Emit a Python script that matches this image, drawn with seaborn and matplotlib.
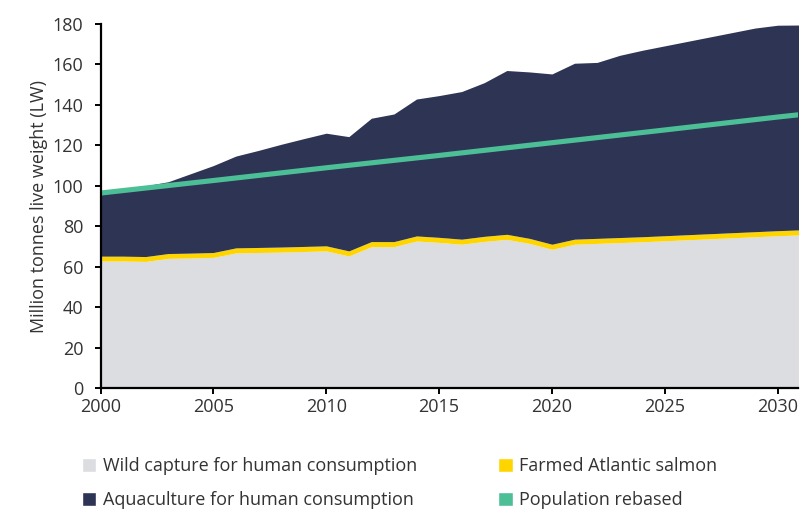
import matplotlib
matplotlib.use('Agg')
import matplotlib.pyplot as plt
from matplotlib.patches import Patch
import seaborn as sns
import pandas as pd

# data (million tonnes live weight)
years = list(range(2000, 2032))
wild_capture = [62.8, 62.8, 62.6, 64.1, 64.3, 64.6, 66.8, 67.0, 67.2, 67.5,
                67.8, 65.3, 69.9, 69.9, 72.7, 72.0, 71.1, 72.5, 73.5, 71.5,
                68.6, 71.1, 71.5, 71.9, 72.3, 72.8, 73.3, 73.8, 74.3, 74.8,
                75.3, 75.7]
farmed_salmon = [2.4, 2.4, 2.4, 2.4, 2.4, 2.4, 2.5, 2.5, 2.5, 2.5,
                 2.5, 2.5, 2.5, 2.5, 2.5, 2.5, 2.5, 2.5, 2.5, 2.5,
                 2.5, 2.5, 2.5, 2.5, 2.5, 2.5, 2.5, 2.5, 2.5, 2.5,
                 2.5, 2.5]
aquaculture = [30.3, 32.3, 35.0, 35.5, 39.3, 43.0, 45.4, 48.0, 50.8, 53.3,
               55.7, 56.5, 61.0, 63.1, 67.7, 70.1, 73.0, 76.0, 81.0, 82.3,
               84.2, 87.0, 87.0, 90.1, 92.2, 93.9, 95.6, 97.3, 99.0, 100.7,
               101.6, 101.3]
pop_years = [2000, 2005, 2010, 2015, 2020, 2025, 2030, 2031]
population = [96.4, 102.6, 108.9, 115.0, 121.3, 127.6, 134.0, 135.2]

labels = ['Wild capture for human consumption', 'Farmed Atlantic salmon',
          'Aquaculture for human consumption', 'Population rebased']
colors = ['#DCDDE1', '#FFD500', '#2E3454', '#4CBF97']
text_col = '#333333'

sns.set_theme(style='white')
plt.rcParams['font.family'] = ['Open Sans', 'DejaVu Sans']

fig = plt.figure(figsize=(8.01, 5.11), dpi=100)
ax = fig.add_axes([100.5 / 801, 123 / 511, (798 - 100.5) / 801, 364 / 511])

ax.stackplot(years, wild_capture, farmed_salmon, aquaculture,
             colors=colors[:3], linewidth=0)
pop_df = pd.DataFrame({'year': pop_years, 'pop': population})
sns.lineplot(data=pop_df, x='year', y='pop', ax=ax, color=colors[3],
             linewidth=3.7)

ax.set_xlim(2000, 2030.9)
ax.set_ylim(0, 180)
ax.set_xticks(range(2000, 2031, 5))
ax.set_yticks(range(0, 181, 20))
ax.set_xlabel('')
ax.set_ylabel('Million tonnes live weight (LW)', fontsize=13, color=text_col,
              labelpad=3)
sns.despine(ax=ax)
for s in ['left', 'bottom']:
    ax.spines[s].set_color('black')
    ax.spines[s].set_linewidth(1.6)
ax.tick_params(axis='both', which='major', length=4, width=1.4,
               color='black', labelsize=13, labelcolor=text_col,
               bottom=True, left=True)
ax.tick_params(axis='y', pad=8.5)
ax.tick_params(axis='x', pad=3)

handles = [Patch(facecolor=colors[0], label=labels[0]),
           Patch(facecolor=colors[2], label=labels[2]),
           Patch(facecolor=colors[1], label=labels[1]),
           Patch(facecolor=colors[3], label=labels[3])]
fig.legend(handles=handles, loc='upper left', ncol=2,
           bbox_to_anchor=(82 / 801, 1 - 457 / 511), frameon=False,
           fontsize=13, labelcolor=text_col, handlelength=0.8,
           handleheight=0.8, handletextpad=0.35, columnspacing=4.5,
           labelspacing=0.9, borderpad=0, borderaxespad=0)

fig.savefig('out.png', dpi=100)
